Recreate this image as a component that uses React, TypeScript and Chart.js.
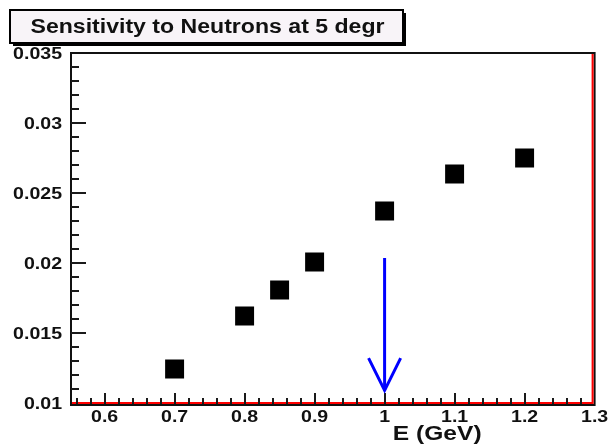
import React, { useEffect, useRef } from "react";
import { Chart, registerables } from "chart.js";

Chart.register(...registerables);

// ---- data ----
const titleText = "Sensitivity to Neutrons at 5 degr";
const xAxisTitle = "E (GeV)";
const energies = [0.7, 0.8, 0.85, 0.9, 1.0, 1.1, 1.2];
const sensitivities = [0.01243, 0.01621, 0.01807, 0.02007, 0.02371, 0.02636, 0.0275];
const xTickValues = [0.6, 0.7, 0.8, 0.9, 1.0, 1.1, 1.2, 1.3];
const yTickValues = [0.01, 0.015, 0.02, 0.025, 0.03, 0.035];
const xRange = [0.552, 1.3];
const yRange = [0.01, 0.035];
// arrow: shaft and head
const arrowShaftX = [1.0, 1.0];
const arrowShaftY = [0.02036, 0.0109];
const arrowHeadX = [0.9771, 1.0, 1.0229];
const arrowHeadY = [0.01321, 0.0109, 0.01321];

const W = 608;
const H = 447;
const STRETCH = 1.15;

function fmt(v: number): string {
  return String(parseFloat(v.toFixed(4)));
}

function stretchedText(
  ctx: CanvasRenderingContext2D,
  text: string,
  x: number,
  y: number,
  align: CanvasTextAlign,
  sx: number
) {
  ctx.save();
  ctx.translate(x, y);
  ctx.scale(sx, 1);
  ctx.textAlign = align;
  ctx.textBaseline = "middle";
  ctx.fillText(text, 0, 0);
  ctx.restore();
}

const rootDecor = {
  id: "rootDecor",
  beforeDatasetsDraw(chart: any) {
    const ctx: CanvasRenderingContext2D = chart.ctx;
    const a = chart.chartArea;
    const xs = chart.scales.x;
    const ys = chart.scales.y;
    ctx.save();
    // frame
    ctx.lineCap = "butt";
    ctx.strokeStyle = "#111";
    ctx.lineWidth = 2;
    ctx.beginPath();
    ctx.moveTo(a.left, a.bottom + 2);
    ctx.lineTo(a.left, a.top);
    ctx.lineTo(a.right, a.top);
    ctx.lineTo(a.right, a.bottom + 2);
    ctx.lineTo(a.left - 1, a.bottom + 2);
    ctx.stroke();
    // red inner lines (bottom, right)
    ctx.strokeStyle = "#ff0000";
    ctx.beginPath();
    ctx.moveTo(a.left + 1, a.bottom);
    ctx.lineTo(a.right - 2, a.bottom);
    ctx.lineTo(a.right - 2, a.top + 1);
    ctx.stroke();

    // ticks
    ctx.strokeStyle = "#1a1a1a";
    ctx.lineWidth = 2;
    const yMajorLen = 15;
    const yMinorLen = 8;
    const xMajorLen = 11;
    const xMinorLen = 6;
    ctx.beginPath();
    // y ticks (step 0.001 minor, 0.005 major)
    for (let i = 0; i <= 25; i++) {
      const v = yRange[0] + i * 0.001;
      if (v > yRange[1] + 1e-9) break;
      const py = Math.round(ys.getPixelForValue(v));
      const major = i % 5 === 0;
      if (py <= a.top + 1 || py >= a.bottom - 1) continue;
      ctx.moveTo(a.left, py);
      ctx.lineTo(a.left + (major ? yMajorLen : yMinorLen), py);
    }
    // x ticks (step 0.02 minor, 0.1 major)
    for (let i = -5; i <= 40; i++) {
      const v = 0.6 + i * 0.02;
      if (v < xRange[0] - 1e-9 || v > xRange[1] + 1e-9) continue;
      const px = Math.round(xs.getPixelForValue(v));
      const major = ((i % 5) + 5) % 5 === 0;
      if (px >= a.right - 2) continue;
      ctx.moveTo(px, a.bottom + 1);
      ctx.lineTo(px, a.bottom + 1 - (major ? xMajorLen : xMinorLen));
    }
    ctx.stroke();
    ctx.restore();
  },
  afterDraw(chart: any) {
    const ctx: CanvasRenderingContext2D = chart.ctx;
    const a = chart.chartArea;
    const xs = chart.scales.x;
    const ys = chart.scales.y;
    ctx.save();
    ctx.fillStyle = "#111";
    ctx.font = "bold 17px 'Liberation Sans', Arial, sans-serif";
    // y tick labels
    for (const t of ys.ticks) {
      const py = ys.getPixelForValue(t.value);
      stretchedText(ctx, fmt(t.value), a.left - 9, py + 1, "right", STRETCH);
    }
    // x tick labels
    for (const t of xs.ticks) {
      const px = xs.getPixelForValue(t.value);
      stretchedText(ctx, fmt(t.value), px, a.bottom + 14, "center", STRETCH);
    }
    // axis title
    ctx.font = "bold 21px 'Liberation Sans', Arial, sans-serif";
    stretchedText(ctx, xAxisTitle, a.right - 113, a.bottom + 31, "right", 1.17);

    // title box with shadow
    const bx = 10, by = 10, bw = 393, bh = 33;
    ctx.fillStyle = "#000";
    ctx.fillRect(bx + 3, by + 3, bw, bh);
    ctx.fillStyle = "#f8f4f8";
    ctx.fillRect(bx, by, bw, bh);
    ctx.strokeStyle = "#000";
    ctx.lineWidth = 2;
    ctx.strokeRect(bx, by, bw, bh);
    ctx.fillStyle = "#111";
    ctx.font = "bold 20px 'Liberation Sans', Arial, sans-serif";
    const mw = ctx.measureText(titleText).width;
    stretchedText(ctx, titleText, bx + bw / 2 + 1, by + bh / 2 + 1, "center", 354 / mw);
    ctx.restore();
  },
};

export default function App() {
  const ref = useRef<HTMLCanvasElement | null>(null);
  useEffect(() => {
    if (!ref.current) return;
    const points = energies.map((e, i) => ({ x: e, y: sensitivities[i] }));
    const shaft = arrowShaftX.map((x, i) => ({ x, y: arrowShaftY[i] }));
    const head = arrowHeadX.map((x, i) => ({ x, y: arrowHeadY[i] }));
    const chart = new Chart(ref.current, {
      type: "scatter",
      data: {
        datasets: [
          {
            data: points,
            pointStyle: "rect",
            pointRadius: 13.4,
            pointHoverRadius: 13.4,
            backgroundColor: "#000",
            borderColor: "#000",
            borderWidth: 0,
            showLine: false,
          },
          {
            data: shaft,
            showLine: true,
            borderColor: "#0000ff",
            borderWidth: 3,
            pointRadius: 0,
            fill: false,
          },
          {
            data: head,
            showLine: true,
            borderColor: "#0000ff",
            borderWidth: 3,
            pointRadius: 0,
            fill: false,
            borderJoinStyle: "miter",
          },
        ],
      } as any,
      options: {
        animation: false,
        responsive: false,
        devicePixelRatio: 1,
        events: [],
        layout: { padding: { top: 53, right: 13, left: 0, bottom: 0 } },
        plugins: {
          legend: { display: false },
          tooltip: { enabled: false },
          title: { display: false },
        },
        scales: {
          x: {
            type: "linear",
            min: xRange[0],
            max: xRange[1],
            grid: { display: false },
            border: { display: false },
            ticks: { display: false },
            afterBuildTicks: (s: any) => {
              s.ticks = xTickValues.map((v) => ({ value: v }));
            },
            afterFit: (s: any) => {
              s.height = 44;
            },
          },
          y: {
            type: "linear",
            min: yRange[0],
            max: yRange[1],
            grid: { display: false },
            border: { display: false },
            ticks: { display: false },
            afterBuildTicks: (s: any) => {
              s.ticks = yTickValues.map((v) => ({ value: v }));
            },
            afterFit: (s: any) => {
              s.width = 71;
            },
          },
        },
      } as any,
      plugins: [rootDecor],
    });
    return () => chart.destroy();
  }, []);
  return (
    <div style={{ position: "fixed", left: 0, top: 0, width: W, height: H, background: "#fff" }}>
      <canvas ref={ref} width={W} height={H} style={{ display: "block" }} />
    </div>
  );
}
